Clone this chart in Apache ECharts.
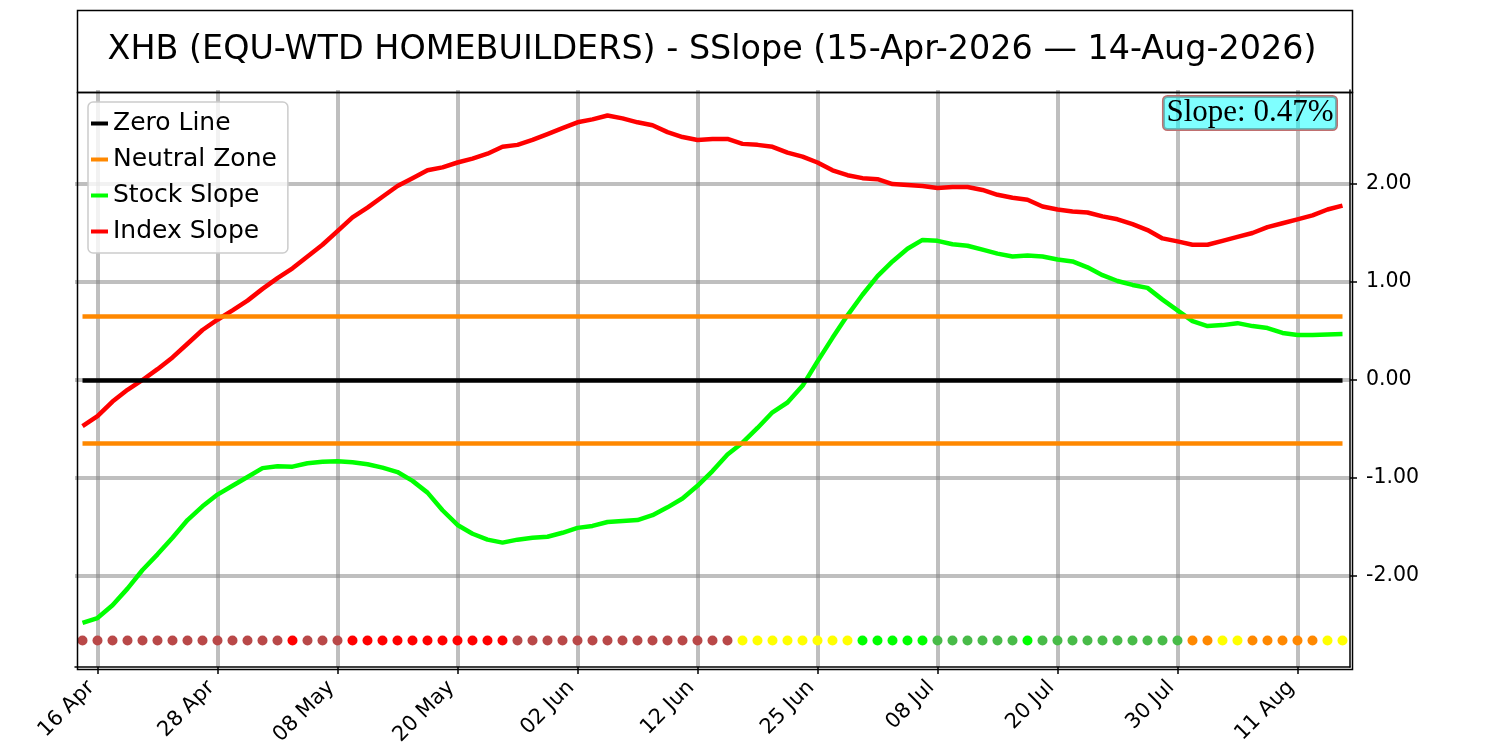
<!DOCTYPE html>
<html>
<head>
<meta charset="utf-8">
<title>XHB SSlope</title>
<script src="https://cdn.jsdelivr.net/npm/echarts@6/dist/echarts.min.js"></script>
<style>
  html, body { margin: 0; padding: 0; background: #fff; }
  #chart { width: 1500px; height: 750px; }
</style>
</head>
<body>
<div id="chart"></div>
<script>
// trading days 15 Apr 2026 .. 14 Aug 2026
var dates = [
  '15 Apr', '16 Apr', '17 Apr', '20 Apr', '21 Apr', '22 Apr', '23 Apr', '24 Apr', '27 Apr', '28 Apr',
  '29 Apr', '30 Apr', '01 May', '04 May', '05 May', '06 May', '07 May', '08 May', '11 May', '12 May',
  '13 May', '14 May', '15 May', '18 May', '19 May', '20 May', '21 May', '22 May', '26 May', '27 May',
  '28 May', '29 May', '01 Jun', '02 Jun', '03 Jun', '04 Jun', '05 Jun', '08 Jun', '09 Jun', '10 Jun',
  '11 Jun', '12 Jun', '15 Jun', '16 Jun', '17 Jun', '18 Jun', '22 Jun', '23 Jun', '24 Jun', '25 Jun',
  '26 Jun', '29 Jun', '30 Jun', '01 Jul', '02 Jul', '06 Jul', '07 Jul', '08 Jul', '09 Jul', '10 Jul',
  '13 Jul', '14 Jul', '15 Jul', '16 Jul', '17 Jul', '20 Jul', '21 Jul', '22 Jul', '23 Jul', '24 Jul',
  '27 Jul', '28 Jul', '29 Jul', '30 Jul', '31 Jul', '03 Aug', '04 Aug', '05 Aug', '06 Aug', '07 Aug',
  '10 Aug', '11 Aug', '12 Aug', '13 Aug', '14 Aug'
];

var stockSlope = [
  -2.48, -2.43, -2.30, -2.13, -1.94, -1.78, -1.61, -1.43, -1.29, -1.17,
  -1.08, -0.99, -0.90, -0.88, -0.885, -0.85, -0.835, -0.83, -0.84, -0.86,
  -0.895, -0.94, -1.03, -1.15, -1.33, -1.48, -1.57, -1.63, -1.66, -1.63,
  -1.61, -1.60, -1.56, -1.51, -1.49, -1.45, -1.44, -1.43, -1.38, -1.30,
  -1.21, -1.08, -0.93, -0.76, -0.64, -0.49, -0.33, -0.23, -0.06, 0.19,
  0.43, 0.66, 0.87, 1.06, 1.21, 1.34, 1.43, 1.42, 1.385, 1.37,
  1.33, 1.29, 1.26, 1.27, 1.26, 1.23, 1.21, 1.15, 1.07, 1.01,
  0.97, 0.94, 0.82, 0.71, 0.60, 0.55, 0.56, 0.58, 0.55, 0.53,
  0.48, 0.46, 0.46, 0.465, 0.47
];

var indexSlope = [
  -0.47, -0.37, -0.22, -0.10, 0.00, 0.11, 0.23, 0.37, 0.51, 0.615,
  0.71, 0.81, 0.93, 1.04, 1.14, 1.26, 1.38, 1.52, 1.66, 1.76,
  1.87, 1.98, 2.06, 2.14, 2.17, 2.22, 2.26, 2.31, 2.38, 2.40,
  2.45, 2.51, 2.57, 2.63, 2.66, 2.70, 2.67, 2.63, 2.60, 2.53,
  2.48, 2.45, 2.46, 2.46, 2.41, 2.40, 2.38, 2.32, 2.28, 2.22,
  2.14, 2.09, 2.06, 2.05, 2.00, 1.99, 1.98, 1.96, 1.97, 1.97,
  1.94, 1.89, 1.86, 1.84, 1.77, 1.74, 1.72, 1.71, 1.67, 1.64,
  1.59, 1.53, 1.445, 1.415, 1.38, 1.38, 1.42, 1.46, 1.50, 1.56,
  1.60, 1.64, 1.68, 1.74, 1.78
];

// signal dots along the bottom, one per day
// B = weak, R = bearish, Y = caution, L = bullish, G = holding, O = neutral
var signals = [
  'B', 'B', 'B', 'B', 'B', 'B', 'B', 'B', 'B', 'B',
  'B', 'B', 'B', 'B', 'R', 'B', 'B', 'B', 'R', 'R',
  'R', 'R', 'R', 'R', 'R', 'R', 'R', 'R', 'R', 'B',
  'B', 'B', 'B', 'B', 'B', 'B', 'B', 'B', 'B', 'B',
  'B', 'B', 'B', 'B', 'Y', 'Y', 'Y', 'Y', 'Y', 'Y',
  'Y', 'Y', 'L', 'L', 'L', 'L', 'L', 'G', 'G', 'G',
  'G', 'G', 'G', 'L', 'G', 'G', 'G', 'G', 'G', 'G',
  'G', 'G', 'G', 'G', 'O', 'O', 'Y', 'Y', 'O', 'O',
  'O', 'O', 'O', 'Y', 'Y'
];
var signalColors = { B: '#b94848', R: '#ff0000', Y: '#ffff00', L: '#00ff00', G: '#48bb48', O: '#ff8800' };

var yTicks = [-2, -1, 0, 1, 2];
var zeroLevel = 0;
var neutralZone = [0.65, -0.65];
var dotLevel = -2.66;
var yMin = -2.93, yMax = 2.96;

var titleText = 'XHB (EQU-WTD HOMEBUILDERS) - SSlope (15-Apr-2026 \u2014 14-Aug-2026)';

var font = '"DejaVu Sans", Verdana, sans-serif';
var gridColor = 'rgba(128,128,128,0.5)';
var first = dates[0], last = dates[dates.length - 1];

var dotData = signals.map(function (s, i) {
  return { value: [dates[i], dotLevel], itemStyle: { color: signalColors[s] } };
});

// a date label every 8 trading days, starting at 16 Apr
var showTick = function (index) { return index % 8 === 1; };

var myChart = echarts.init(document.getElementById('chart'));
var option = {
  animation: false,
  backgroundColor: '#fff',
  grid: { left: 75, right: 150, top: 90, bottom: 83, containLabel: false },
  legend: {
    orient: 'vertical',
    left: 88,
    top: 102,
    data: ['Zero Line', 'Neutral Zone', 'Stock Slope', 'Index Slope'],
    icon: 'rect',
    itemWidth: 17,
    itemHeight: 4,
    itemGap: 11,
    padding: [9, 11, 9, 3],
    backgroundColor: 'rgba(255,255,255,0.8)',
    borderColor: '#cccccc',
    borderWidth: 1.5,
    borderRadius: 5,
    textStyle: { fontFamily: font, fontSize: 25, color: '#000' }
  },
  xAxis: {
    type: 'category',
    data: dates,
    boundaryGap: true,
    axisLine: { onZero: false, lineStyle: { color: '#000', width: 1.5 } },
    axisTick: { show: true, interval: showTick, alignWithLabel: true, length: 7, lineStyle: { color: '#000', width: 1.5 } },
    axisLabel: {
      interval: showTick, rotate: 45, margin: 11, padding: [0, 9, 0, 0],
      fontFamily: font, fontSize: 21, color: '#000'
    },
    splitLine: { show: true, interval: showTick, alignWithLabel: true, lineStyle: { color: gridColor, width: 4 } }
  },
  yAxis: {
    type: 'value',
    position: 'right',
    min: yMin,
    max: yMax,
    axisLine: { show: true, lineStyle: { color: '#000', width: 1.5 } },
    axisTick: { show: true, customValues: yTicks, length: 7, lineStyle: { color: '#000', width: 1.5 } },
    axisLabel: {
      customValues: yTicks, margin: 16,
      fontFamily: font, fontSize: 20.5, color: '#000',
      formatter: function (v) { return Number(v).toFixed(2); }
    },
    splitLine: { show: true, lineStyle: { color: gridColor, width: 4 } }
  },
  series: [
    {
      name: 'Zero Line', type: 'line', data: [], color: '#000',
      markLine: {
        silent: true, symbol: 'none', label: { show: false },
        lineStyle: { color: '#000', width: 4.5, type: 'solid' },
        data: [[{ coord: [first, zeroLevel] }, { coord: [last, zeroLevel] }]]
      }
    },
    {
      name: 'Neutral Zone', type: 'line', data: [], color: '#ff8800',
      markLine: {
        silent: true, symbol: 'none', label: { show: false },
        lineStyle: { color: '#ff8800', width: 4.5, type: 'solid' },
        data: neutralZone.map(function (v) { return [{ coord: [first, v] }, { coord: [last, v] }]; })
      }
    },
    {
      name: 'Stock Slope', type: 'line', data: stockSlope, color: '#00ff00',
      showSymbol: false, lineStyle: { width: 4.5, color: '#00ff00' }
    },
    {
      name: 'Index Slope', type: 'line', data: indexSlope, color: '#ff0000',
      showSymbol: false, lineStyle: { width: 4.5, color: '#ff0000' }
    },
    {
      name: 'Signal', type: 'scatter', data: dotData, symbolSize: 10, z: 5,
      itemStyle: { opacity: 1 }
    }
  ],
  graphic: [
    // title box
    {
      type: 'rect', left: 75, top: 8, z: 100,
      shape: { width: 1275, height: 82 },
      style: { fill: 'none', stroke: '#000', lineWidth: 1.5 }
    },
    {
      type: 'text', x: 712, y: 50, z: 101,
      style: { text: titleText, font: '33.4px ' + font, fill: '#000', textAlign: 'center', textVerticalAlign: 'middle' }
    },
    // plot frame
    {
      type: 'rect', left: 75, top: 90, z: 100,
      shape: { width: 1275, height: 577 },
      style: { fill: 'none', stroke: '#000', lineWidth: 1.5 }
    },
    {
      type: 'text', right: 162, top: 95, z: 101,
      style: {
        text: 'Slope: ' + stockSlope[stockSlope.length - 1].toFixed(2) + '%',
        font: '31px "Liberation Serif", "Times New Roman", serif',
        fill: '#000',
        backgroundColor: 'rgba(0,255,255,0.5)',
        borderColor: '#c07070',
        borderWidth: 1.5,
        borderRadius: 4,
        padding: [1, 3, 1, 3]
      }
    }
  ]
};
myChart.setOption(option);
</script>
</body>
</html>
